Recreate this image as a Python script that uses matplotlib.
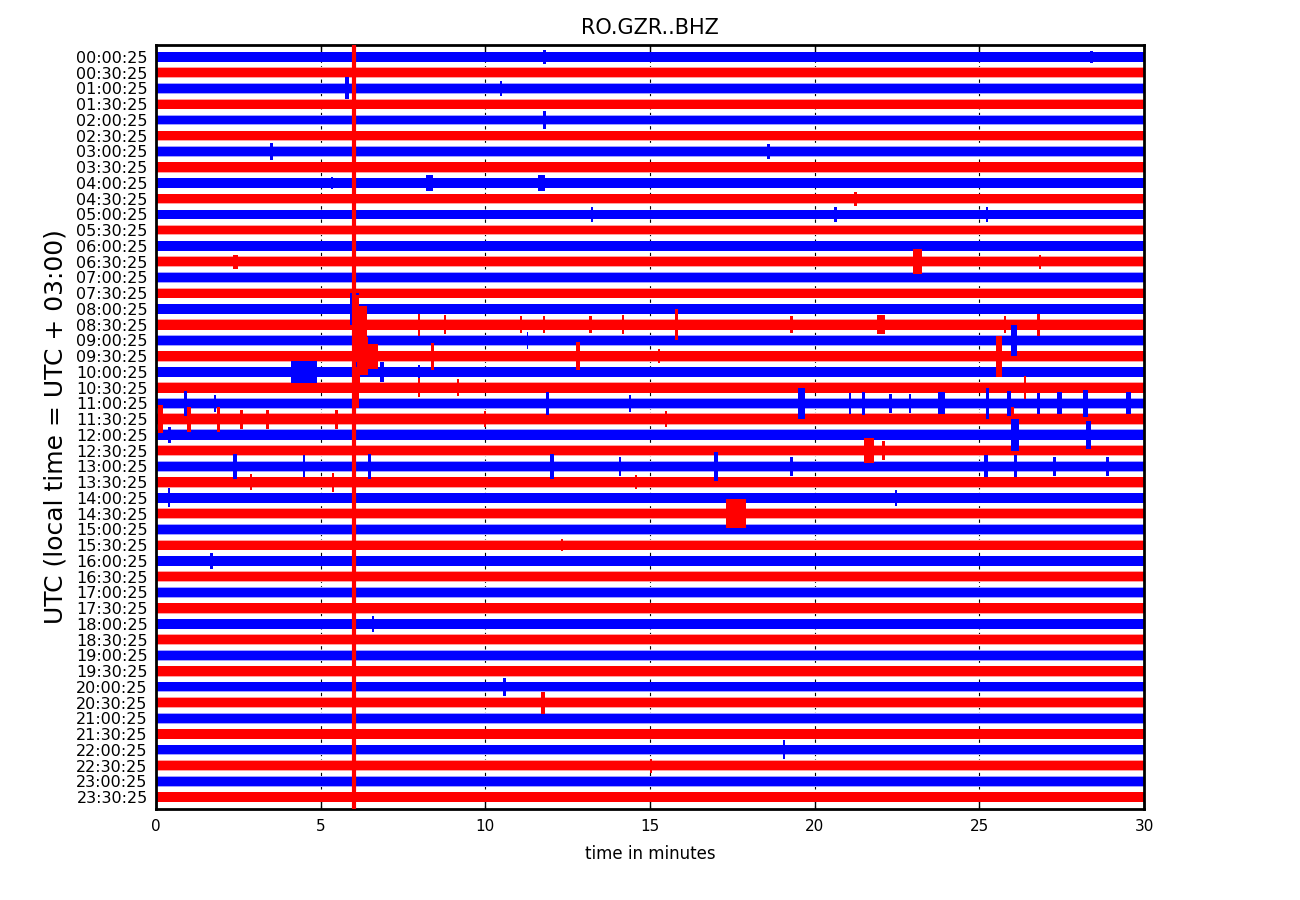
import matplotlib
matplotlib.use('Agg')
import matplotlib.pyplot as plt

# station / labels
title = 'RO.GZR..BHZ'
row_labels = ['%02d:%s:25' % (h, m) for h in range(24) for m in ('00', '30')]
row_colors = ['blue', 'red'] * 24
halo_colors = {'blue': '#a0a0ff', 'red': '#ffa0a0'}

# half width of the noise band for every row (in row units)
base_amp = [0.30, 0.30, 0.30, 0.29, 0.28, 0.28, 0.29, 0.30, 0.30, 0.27,
            0.27, 0.27, 0.29, 0.30, 0.29, 0.29, 0.29, 0.31, 0.29, 0.31,
            0.30, 0.31, 0.30, 0.33, 0.31, 0.30, 0.30, 0.30, 0.30, 0.30,
            0.29, 0.29, 0.30, 0.30, 0.29, 0.30, 0.30, 0.30, 0.29, 0.30,
            0.29, 0.29, 0.29, 0.30, 0.29, 0.30, 0.29, 0.30]

# events: row index, start (min), duration (min), half amplitude (rows)
ev_row = [0, 0, 2, 2, 4, 6, 6, 8, 8, 8, 9, 10, 10, 10,
          13, 13, 13, 14, 16,
          17, 17, 17, 17, 17, 17, 17, 17, 17, 17, 17, 17, 17,
          18, 18, 19, 19, 19, 19, 19, 19, 19,
          20, 20, 20, 20, 21, 21, 21, 21,
          22, 22, 22, 22, 22, 22, 22, 22, 22, 22, 22, 22, 22, 22, 22, 22,
          23, 23, 23, 23, 23, 23, 23, 23, 23,
          24, 24, 24, 25, 25,
          26, 26, 26, 26, 26, 26, 26, 26, 26, 26, 26,
          27, 27, 27, 28, 28, 29, 31, 32, 36, 40, 41, 44, 45]
ev_t = [11.75, 28.35, 5.75, 10.45, 11.75, 3.45, 18.55, 8.2, 11.6, 5.3, 21.2, 13.2, 20.6, 25.2,
        23.0, 2.35, 26.8, 5.95, 5.9,
        5.95, 6.1, 7.95, 8.75, 11.05, 11.75, 13.15, 14.15, 15.75, 19.25, 21.9, 25.75, 26.75,
        11.25, 25.95, 5.95, 6.2, 6.45, 8.35, 12.75, 15.25, 25.5,
        4.1, 6.8, 7.95, 5.95, 6.0, 7.95, 9.15, 26.35,
        0.85, 1.75, 11.85, 14.35, 19.5, 21.05, 21.45, 22.25, 22.85, 23.75, 25.2, 25.85, 26.75, 27.35, 28.15, 29.45,
        0.05, 0.95, 1.85, 2.55, 3.35, 5.45, 9.95, 15.45, 25.95,
        0.35, 25.95, 28.25, 21.5, 22.05,
        2.35, 4.45, 6.45, 11.95, 14.05, 16.95, 19.25, 25.15, 26.05, 27.25, 28.85,
        2.85, 5.35, 14.55, 0.35, 22.45, 17.3, 12.3, 1.65, 6.55, 10.55, 11.7, 19.05, 15.0]
ev_dur = [0.1, 0.1, 0.12, 0.06, 0.1, 0.1, 0.08, 0.2, 0.2, 0.08, 0.1, 0.06, 0.08, 0.06,
          0.25, 0.15, 0.08, 0.12, 0.25,
          0.2, 0.3, 0.08, 0.06, 0.06, 0.06, 0.08, 0.06, 0.1, 0.1, 0.25, 0.06, 0.1,
          0.06, 0.2, 0.25, 0.25, 0.3, 0.08, 0.12, 0.06, 0.2,
          0.8, 0.12, 0.06, 0.15, 0.15, 0.06, 0.06, 0.08,
          0.08, 0.08, 0.08, 0.06, 0.2, 0.06, 0.08, 0.1, 0.08, 0.2, 0.1, 0.12, 0.1, 0.15, 0.15, 0.15,
          0.15, 0.1, 0.1, 0.08, 0.08, 0.08, 0.06, 0.06, 0.1,
          0.1, 0.25, 0.15, 0.3, 0.1,
          0.1, 0.08, 0.08, 0.12, 0.08, 0.12, 0.08, 0.12, 0.08, 0.08, 0.1,
          0.06, 0.06, 0.06, 0.08, 0.06, 0.6, 0.06, 0.08, 0.08, 0.08, 0.12, 0.06, 0.06]
ev_amp = [0.45, 0.4, 0.7, 0.5, 0.55, 0.55, 0.45, 0.5, 0.5, 0.4, 0.45, 0.45, 0.5, 0.45,
          0.8, 0.45, 0.45, 0.8, 1.0,
          1.9, 1.2, 0.7, 0.6, 0.55, 0.55, 0.55, 0.6, 1.0, 0.55, 0.6, 0.55, 0.7,
          0.55, 1.0, 1.8, 1.2, 0.8, 0.85, 0.9, 0.45, 1.3,
          0.7, 0.65, 0.45, 0.6, 1.3, 0.6, 0.55, 0.75,
          0.8, 0.55, 0.75, 0.55, 1.0, 0.65, 0.75, 0.6, 0.6, 0.7, 1.0, 0.8, 0.65, 0.7, 0.85, 0.7,
          0.9, 0.8, 0.8, 0.6, 0.6, 0.6, 0.5, 0.5, 0.8,
          0.5, 1.0, 0.9, 0.8, 0.6,
          0.8, 0.7, 0.8, 0.8, 0.6, 0.9, 0.6, 0.7, 0.7, 0.6, 0.6,
          0.5, 0.6, 0.45, 0.6, 0.5, 0.9, 0.4, 0.5, 0.5, 0.55, 0.7, 0.6, 0.45]

# vertical red line (glitch across all traces)
glitch_t = 6.0

fig = plt.figure(figsize=(13, 9), dpi=100)
ax = fig.add_axes([0.12, 0.101, 0.76, 0.849])

n = len(row_labels)
for i in range(n):
    c = row_colors[i]
    # fuzzy fringe of the dense trace, then the solid core
    ax.fill_between([0, 30], [i - base_amp[i] - 0.04] * 2, [i + base_amp[i] + 0.04] * 2,
                    color=halo_colors[c], lw=0, zorder=2 + i * 0.01)
    ax.fill_between([0, 30], [i - base_amp[i]] * 2, [i + base_amp[i]] * 2,
                    color=c, lw=0, zorder=2.005 + i * 0.01)
for r, t, d, a in zip(ev_row, ev_t, ev_dur, ev_amp):
    ax.bar(t, 2 * a, width=d, bottom=r - a, align='edge',
           color=row_colors[r], lw=0, zorder=2.5 + r * 0.01)
ax.axvline(glitch_t, color='red', lw=3, zorder=4)

# dashed grid at the x ticks
for xv in [5, 10, 15, 20, 25]:
    ax.axvline(xv, color='black', ls=(0, (3, 3)), lw=0.8, zorder=1)

ax.set_xlim(0, 30)
ax.set_ylim(n - 0.24, -0.76)
ax.set_yticks(range(n))
ax.set_yticklabels(row_labels)
ax.set_xticks([0, 5, 10, 15, 20, 25, 30])
ax.tick_params(direction='in', top=True, right=True, length=6, width=1)
ax.tick_params(axis='y', labelsize=11.5, pad=6)
ax.tick_params(axis='x', labelsize=11, pad=7)
for s in ax.spines.values():
    s.set_linewidth(2)
ax.set_title(title, fontsize=15, pad=8)
ax.set_xlabel('time in minutes', fontsize=12, labelpad=8)
ax.set_ylabel('UTC (local time = UTC + 03:00)', fontsize=18, labelpad=6)

fig.savefig('out.png', dpi=100)
